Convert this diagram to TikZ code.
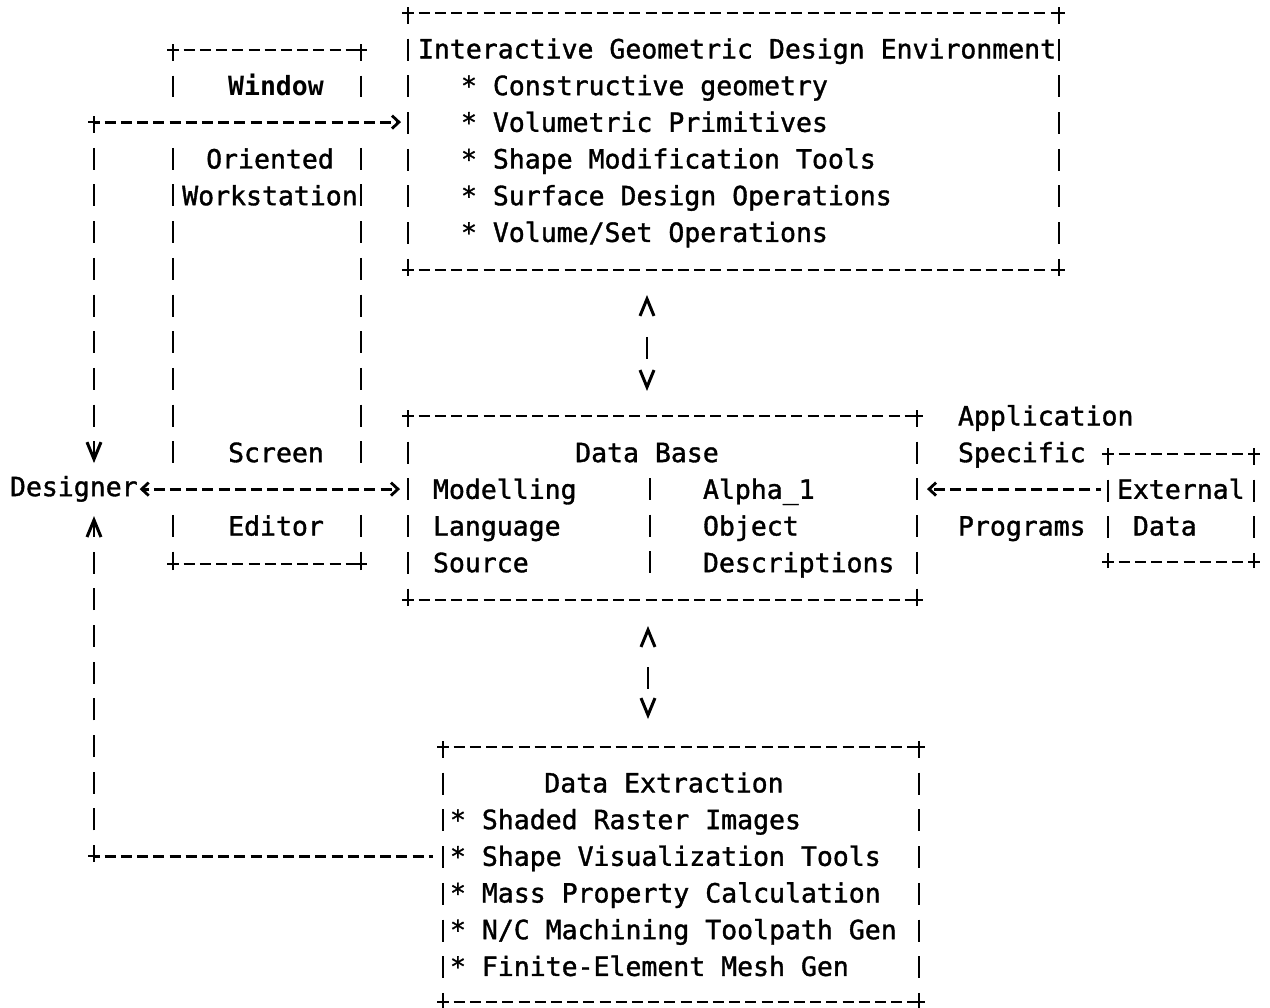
\documentclass[tikz,border=0pt]{standalone}
\usepackage{fontspec}
\setmonofont[UprightFeatures={FakeBold=1.3}]{DejaVu Sans Mono}
\usetikzlibrary{arrows.meta}
\newcommand\tstrut{\rule{0pt}{22pt}}
\newcommand\pmark[1]{\draw[pl] ([xshift=-6pt]#1) -- ([xshift=6pt]#1) ([yshift=-6pt]#1) -- ([yshift=6pt]#1);}
\newcommand\hsides[1]{%
  \draw[hd] (#1.north west) -- (#1.north east);
  \draw[hd] (#1.south west) -- (#1.south east);
  \pmark{#1.north west}\pmark{#1.north east}\pmark{#1.south west}\pmark{#1.south east}}
\newcommand\asciibox[1]{%
  \hsides{#1}
  \draw[vd] (#1.north west) -- (#1.south west);
  \draw[vd] (#1.north east) -- (#1.south east);}
\begin{document}
\begin{tikzpicture}[x=1pt,y=-1pt,
  txt/.style={font=\ttfamily\fontsize{26.5pt}{36.7pt}\selectfont, inner sep=0pt, outer sep=0pt, text=black},
  ml/.style={txt, align=left, anchor=north west},
  cl/.style={txt, anchor=base},
  boxn/.style={rectangle, inner sep=0pt, outer sep=0pt, draw=none},
  hd/.style={line width=2.9pt, dash pattern=on 11pt off 5.2pt, dash phase=5.5pt},
  vd/.style={line width=2.2pt, dash pattern=on 22pt off 14.7pt, dash phase=11pt},
  vd0/.style={vd, dash phase=0pt},
  pl/.style={line width=2.4pt},
  htip/.tip={Straight Barb[length=7pt,width=13pt,line width=2.8pt]},
  vtip/.tip={Straight Barb[length=17pt,width=14pt,line width=3pt]},
  shortv/.style={line width=2.2pt, dash pattern=on 0pt off 36.5pt on 22pt off 200pt}
]
\useasboundingbox (0,0) rectangle (1270,1008);

% boxes
\node[boxn, minimum width=651pt, minimum height=257pt] (igde) at (733.5,141.5) {};
\node[boxn, minimum width=188pt, minimum height=514pt] (win) at (267,307) {};
\node[boxn, minimum width=509pt, minimum height=184pt] (db) at (662.5,508) {};
\node[boxn, minimum width=146pt, minimum height=108pt] (ext) at (1181,508) {};
\node[boxn, minimum width=476pt, minimum height=255pt] (dx) at (681,874.5) {};
\asciibox{igde}
\asciibox{db}
\asciibox{ext}
\asciibox{dx}
% window box: sides interrupted where the connectors cross
\hsides{win}
\foreach \a in {north west, north east}{
  \draw[vd] (win.\a) -- ([yshift=-47pt]win.\a);
  \draw[vd0] ([yshift=-97.8pt]win.\a) -- ([yshift=-414pt]win.\a);
  \draw[vd0] ([yshift=-464.8pt]win.\a) -- ([yshift=-514pt]win.\a);
}

% texts
\node[ml] (igdeTitle) at (418,36.4) {\tstrut Interactive Geometric Design Environment};
\node[ml] (igdeList) at (461,73.1) {\tstrut* Constructive geometry\\* Volumetric Primitives\\* Shape Modification Tools\\* Surface Design Operations\\* Volume/Set Operations};

\node[cl, font=\ttfamily\bfseries\fontsize{26.5pt}{36.7pt}\selectfont] (winA) at (276,95.1) {Window};
\node[txt, align=center, anchor=north] (winB) at (270,146.5) {\tstrut Oriented\\Workstation};
\node[cl] (winC) at (276,462.1) {Screen};
\node[cl] (winD) at (276,535.5) {Editor};

\node[txt, anchor=west, text height=20pt, text depth=6pt] (designer) at (10,489.1) {Designer};

\node[cl] (dbT) at (647,462.1) {Data Base};
\node[ml] (dbL) at (433,476.8) {\tstrut Modelling\\Language\\Source};
\node[ml] (dbR) at (703,476.8) {\tstrut Alpha\_1\\Object\\Descriptions};
\draw[vd0] ([xshift=242pt, yshift=-62pt]db.north west) -- ([xshift=242pt, yshift=26pt]db.south west);

\node[ml] (app) at (958,403.4) {\tstrut Application\\Specific\\[36.7pt]Programs};
\node[ml] (extT) at (1117,476.8) {\tstrut External\\\phantom{x}Data};

\node[cl] (dxT) at (664,792.4) {Data Extraction};
\node[ml] (dxL) at (450,807.1) {\tstrut* Shaded Raster Images\\* Shape Visualization Tools\\* Mass Property Calculation\\* N/C Machining Toolpath Gen\\* Finite-Element Mesh Gen};

% connectors
\draw[shortv, vtip-vtip, shorten <=25pt, shorten >=25pt] ([xshift=239pt]igde.south west) -- ([xshift=239pt]db.north west);
\draw[shortv, vtip-vtip, shorten <=26pt, shorten >=28pt, dash pattern=on 0pt off 35.6pt on 22pt off 200pt] ([xshift=240pt]db.south west) -- ([xshift=205pt]dx.north west);

\draw[hd, htip-htip, shorten <=2pt, shorten >=8pt] (designer.east) -- (designer.east -| db.west);
\draw[hd, -htip, shorten <=7pt, shorten >=10pt] (ext.west |- designer.east) -- (db.east |- designer.east);

\coordinate (lt) at (94,122.1);
\coordinate (lb) at (94,856.1);
\draw[hd, -htip, shorten >=7pt] (lt) -- (lt -| igde.west);
\draw[vd, -vtip, shorten >=13pt] (lt) -- ([xshift=84pt]designer.north west);
\draw[vd, -vtip, shorten >=14pt] (lb) -- ([xshift=84pt]designer.south west);
\draw[hd, shorten >=10pt] (lb) -- (lb -| dx.west);
\pmark{lt}
\pmark{lb}
\end{tikzpicture}
\end{document}
